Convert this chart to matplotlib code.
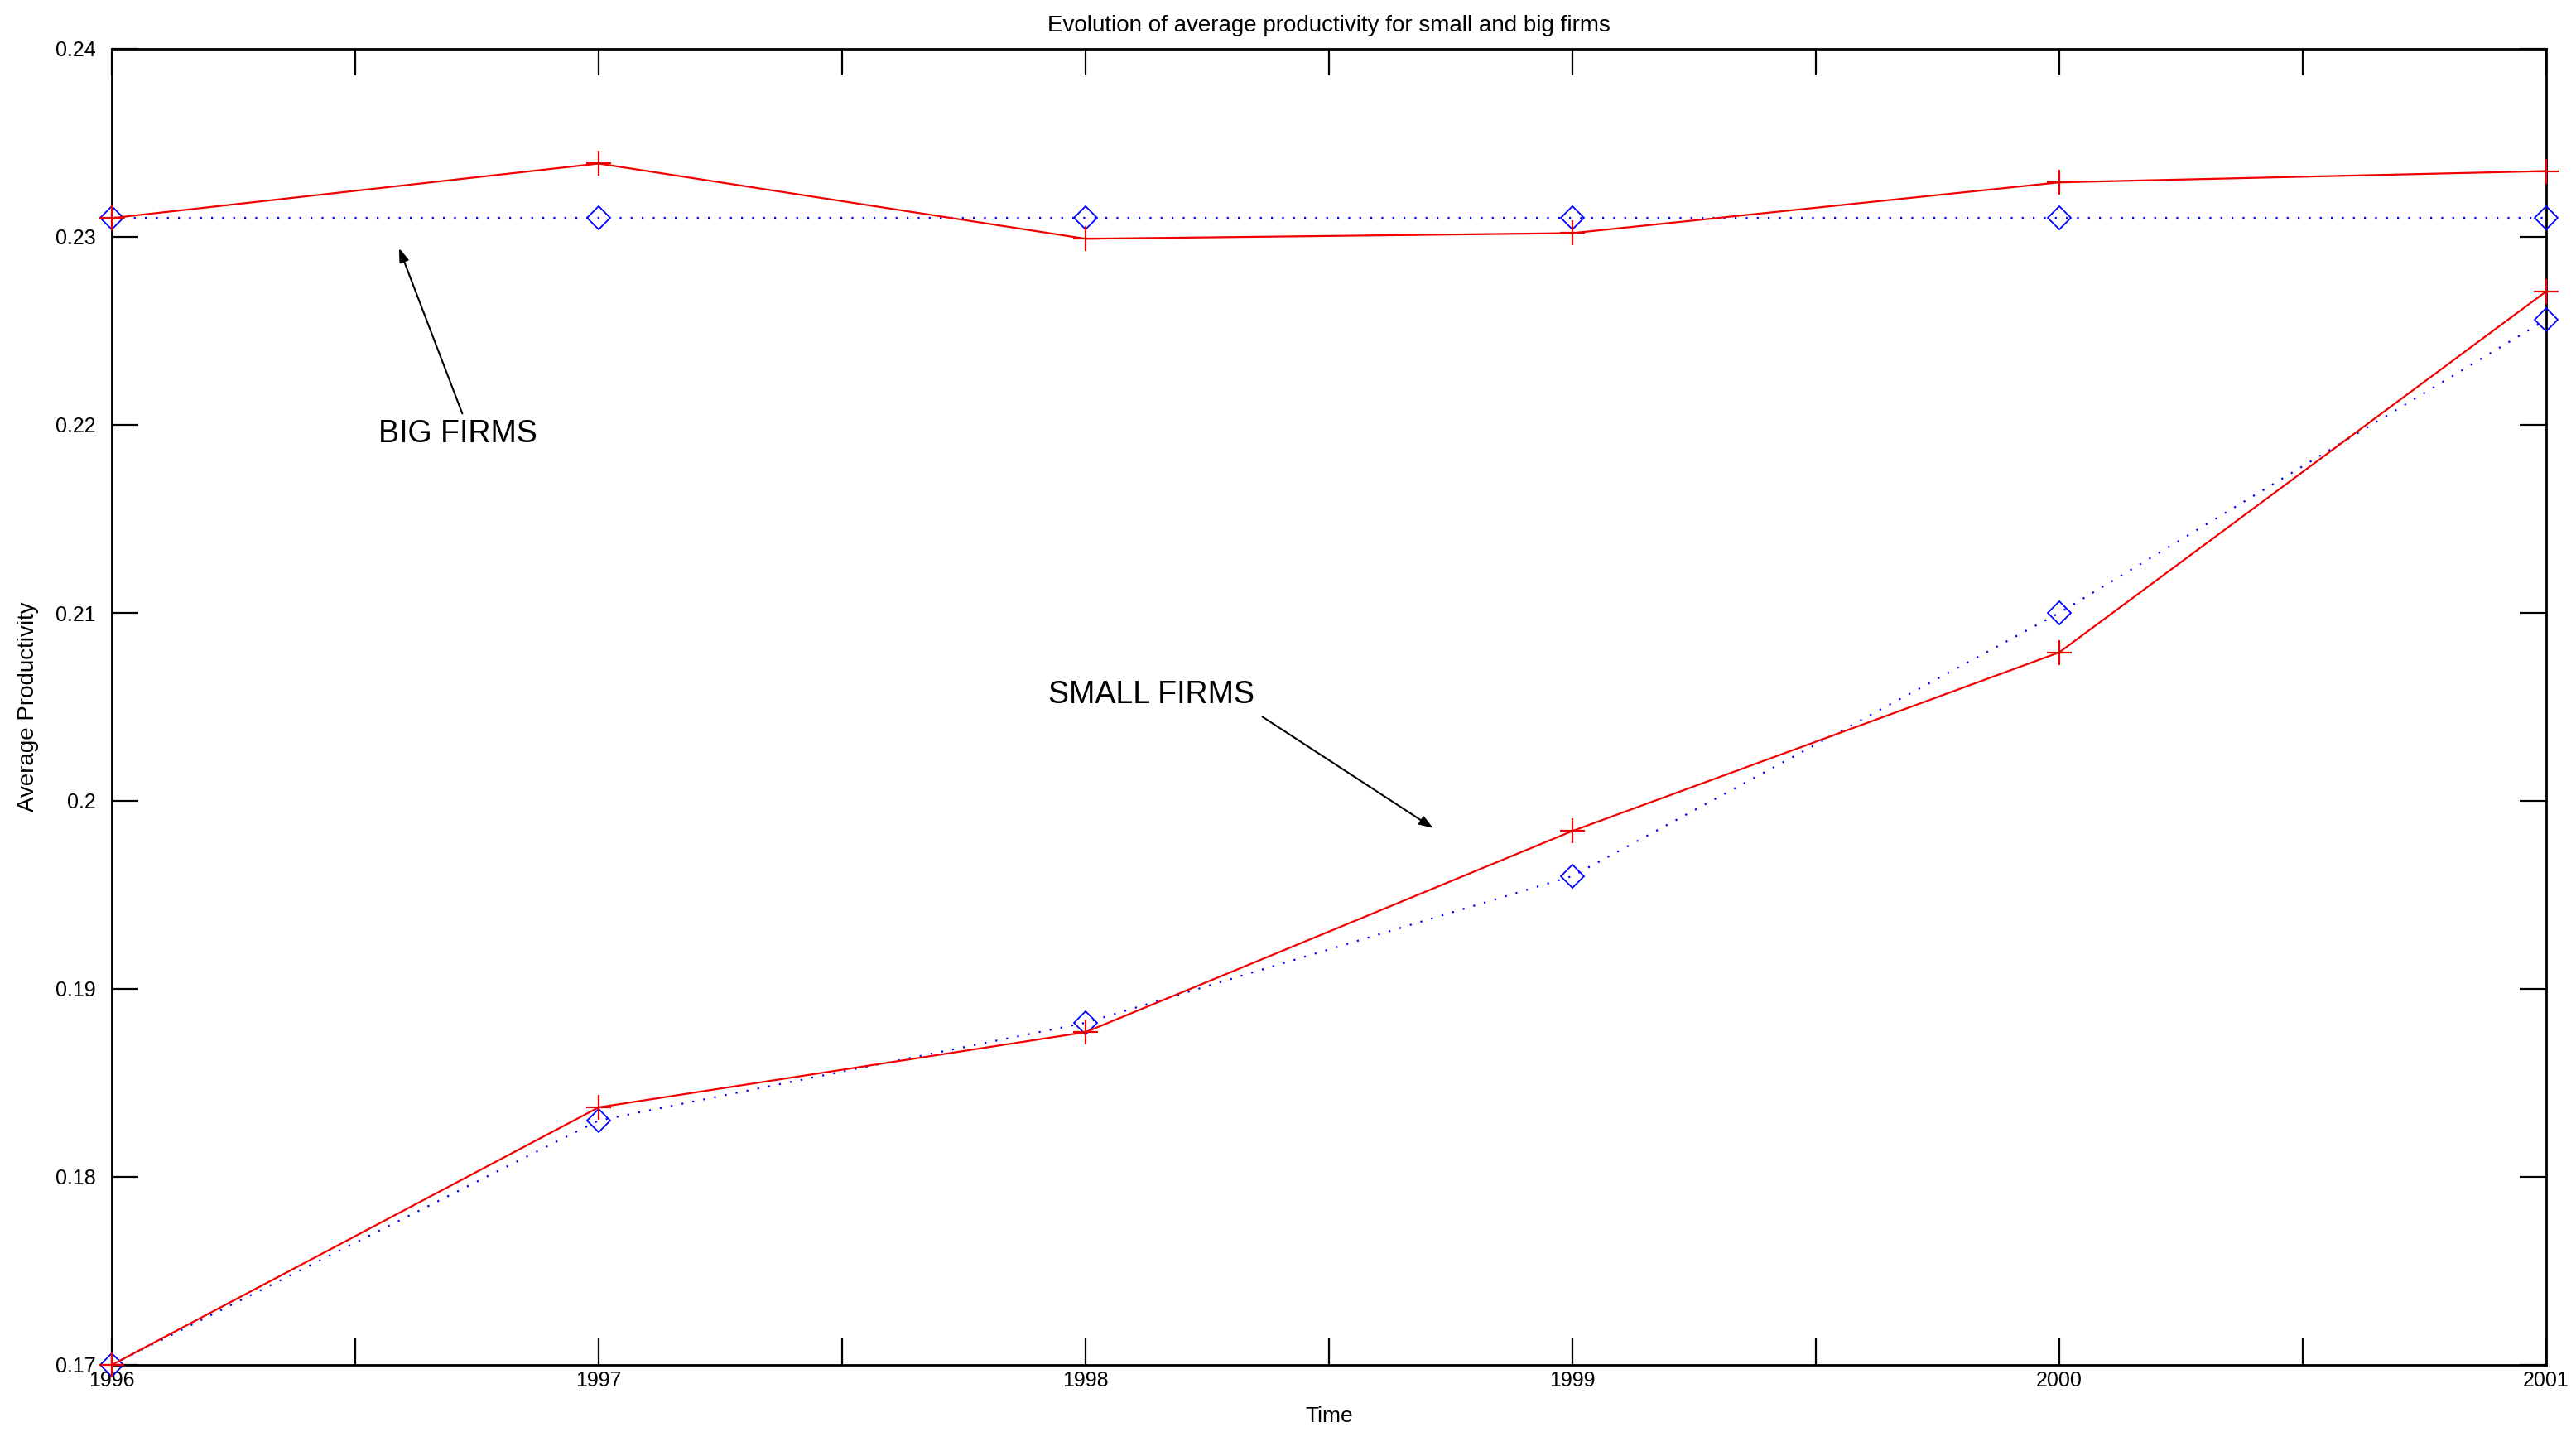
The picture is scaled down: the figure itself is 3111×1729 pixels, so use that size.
import matplotlib
matplotlib.use("Agg")
import matplotlib.pyplot as plt
import numpy as np

plt.rcParams['font.family'] = ['Liberation Sans', 'DejaVu Sans']

years = [1996, 1997, 1998, 1999, 2000, 2001]
big_red = [0.2310, 0.2339, 0.2299, 0.2302, 0.2329, 0.2335]
big_blue = [0.2310, 0.2310, 0.2310, 0.2310, 0.2310, 0.2310]
small_red = [0.1700, 0.1837, 0.1877, 0.1984, 0.2079, 0.2271]
small_blue = [0.1700, 0.1830, 0.1882, 0.1960, 0.2100, 0.2256]
xticks_major = [1996, 1997, 1998, 1999, 2000, 2001]
xticks_minor = [1996.5, 1997.5, 1998.5, 1999.5, 2000.5]
yticks = [0.17, 0.18, 0.19, 0.20, 0.21, 0.22, 0.23, 0.24]
ytick_labels = ['0.17', '0.18', '0.19', '0.2', '0.21', '0.22', '0.23', '0.24']

W, H = 3111, 1729
fig = plt.figure(figsize=(W / 100, H / 100), dpi=100)
ax = fig.add_axes([135 / W, 1 - 1648 / H, (3075 - 135) / W, (1648 - 59) / H])

lw = 1.6
ax.plot(years, big_blue, color='#0000ff', linestyle=(0, (1, 5)), linewidth=lw,
        marker='D', markersize=14, markerfacecolor='none', markeredgecolor='#0000ff',
        markeredgewidth=1.3, clip_on=False, zorder=3)
ax.plot(years, small_blue, color='#0000ff', linestyle=(0, (1, 5)), linewidth=lw,
        marker='D', markersize=14, markerfacecolor='none', markeredgecolor='#0000ff',
        markeredgewidth=1.3, clip_on=False, zorder=3)
ax.plot(years, big_red, color='#f00000', linestyle='-', linewidth=lw,
        marker='+', markersize=21, markeredgewidth=1.6, clip_on=False, zorder=4)
ax.plot(years, small_red, color='#f00000', linestyle='-', linewidth=lw,
        marker='+', markersize=21, markeredgewidth=1.6, clip_on=False, zorder=4)

ax.set_xlim(1996, 2001)
ax.set_ylim(0.17, 0.24)
ax.set_xticks(xticks_major)
ax.set_xticklabels([str(y) for y in xticks_major])
ax.set_xticks(xticks_minor, minor=True)
ax.set_yticks(yticks)
ax.set_yticklabels(ytick_labels)

ax.tick_params(which='both', direction='in', length=23, width=1.6, top=True, right=True,
               color='black')
ax.tick_params(axis='x', which='major', labelsize=18, pad=5)
ax.tick_params(axis='y', which='major', labelsize=18, pad=14)
for s in ax.spines.values():
    s.set_linewidth(2.0)
    s.set_color('black')

ax.set_title('Evolution of average productivity for small and big firms', fontsize=20, pad=15)
ax.set_xlabel('Time', fontsize=19, labelpad=14)
ax.set_ylabel('Average Productivity', fontsize=20, labelpad=14)

arrow = dict(arrowstyle='-|>,head_length=1.0,head_width=0.35', color='black', lw=1.5,
             shrinkA=0, shrinkB=0)
ax.annotate('', xy=(1996.59, 0.2294), xytext=(1996.72, 0.2206), arrowprops=arrow)
ax.text(1996.547, 0.2195, 'BIG FIRMS', fontsize=27, ha='left', va='center')
ax.annotate('', xy=(1998.714, 0.19855), xytext=(1998.363, 0.20448), arrowprops=arrow)
ax.text(1997.924, 0.20562, 'SMALL FIRMS', fontsize=27, ha='left', va='center')

fig.savefig('out.png', dpi=100)
